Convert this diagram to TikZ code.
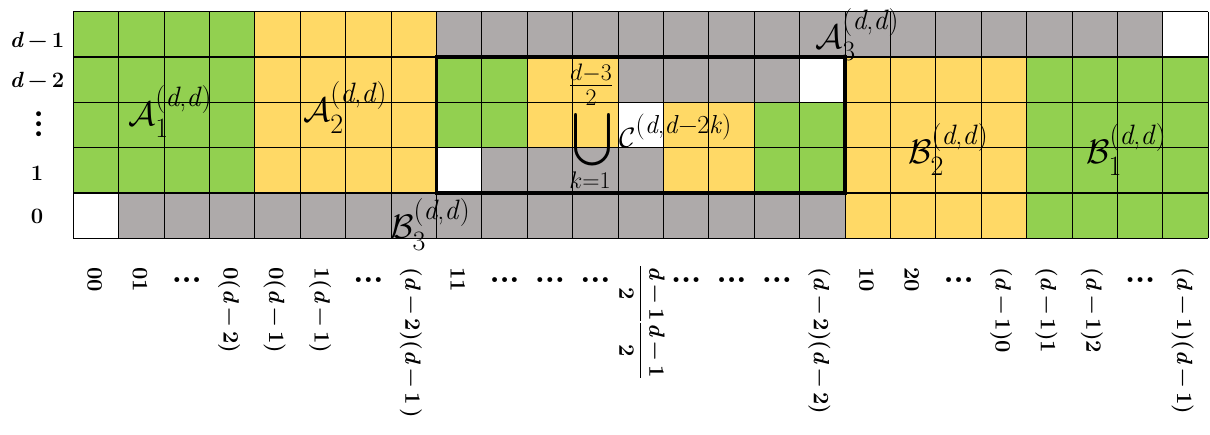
\RequirePackage{fix-cm}
\documentclass[tikz,border=0pt]{standalone}
\usepackage{amsmath}
\usepackage{graphicx}
\definecolor{cgreen}{HTML}{92D050}
\definecolor{cyellow}{HTML}{FFD966}
\definecolor{cgray}{HTML}{AEAAAA}
\newcommand{\mn}{\hspace{0.2em}−\hspace{0.2em}}
\newcommand{\vd}{\textit{d}}
\newcommand{\dts}{.\kern-0.02em.\kern-0.02em.}
\newcommand{\spx}[1]{\text{\fontsize{28}{28}\selectfont\raisebox{6pt}{#1}}}
\newcommand{\sbx}[1]{\text{\fontsize{28}{28}\selectfont\raisebox{-4pt}{#1}}}
\newcommand{\sset}[3]{$\mathcal{#1}_{\sbx{#2}}^{\spx{#3}}$}
\tikzset{
  gridline/.style={line width=1.1pt, draw=black},
  bigbox/.style={line width=3.3pt, draw=black},
  rowlab/.style={font=\fontsize{22}{22}\selectfont\bfseries, anchor=base, inner sep=0pt},
  collab/.style={font=\fontsize{22}{22}\selectfont\bfseries, rotate=-90, anchor=base west, inner sep=0pt},
  dotlab/.style={font=\fontsize{34}{34}\selectfont\bfseries, anchor=center, inner sep=0pt},
  setlab/.style={font=\fontsize{34}{34}\selectfont, anchor=base west, inner sep=0pt},
}
\begin{document}
\begin{tikzpicture}[x=1pt,y=-1pt]
\useasboundingbox (0,0) rectangle (1210,434);
\begin{scope}[shift={(73.3pt,-11.7pt)}, x=45.4pt, y=-45.32pt]
  \fill[cgreen] (0,0) rectangle (4,4);
  \fill[cgreen] (8,1) rectangle (10,3);
  \fill[cgreen] (15,2) rectangle (17,4);
  \fill[cgreen] (21,1) rectangle (25,5);
  \fill[cyellow] (4,0) rectangle (8,4);
  \fill[cyellow] (10,1) rectangle (12,3);
  \fill[cyellow] (13,2) rectangle (15,4);
  \fill[cyellow] (17,1) rectangle (21,5);
  \fill[cgray] (8,0) rectangle (24,1);
  \fill[cgray] (12,1) rectangle (16,2);
  \fill[cgray] (9,3) rectangle (13,4);
  \fill[cgray] (1,4) rectangle (17,5);
  \foreach \i in {0,...,25} \draw[gridline] (\i,0) -- (\i,5);
  \foreach \j in {0,...,5} \draw[gridline] (0,\j) -- (25,\j);
  \draw[bigbox] (8,1) rectangle (17,4);
\end{scope}
\node[rowlab] (r1) at (37,47) {\vd\mn 1};
\node[rowlab] (r2) at (37,87) {\vd\mn 2};
\node[dotlab, rotate=90] (r3) at (39,124) {\dts};
\node[rowlab] (r4) at (37,180) {1};
\node[rowlab] (r5) at (37,223) {0};
\node[collab] (col0) at (87.5,267) {00};
\node[collab] (col1) at (132.9,267) {01};
\node[collab] (col3) at (223.7,267) {0(\vd\mn 2)};
\node[collab] (col4) at (269.1,267) {0(\vd\mn 1)};
\node[collab] (col5) at (314.5,267) {1(\vd\mn 1)};
\node[collab] (col7) at (405.3,267) {(\vd\mn 2)(\vd\mn 1\,)};
\node[collab] (col8) at (450.7,267) {11};
\node[collab] (col12) at (634.5,265) {$\dfrac{\text{\bfseries\vd\mn 1}}{\text{\bfseries 2}}\dfrac{\text{\bfseries\vd\mn 1}}{\text{\bfseries 2}}$};
\node[collab] (col16) at (813.9,267) {(\vd\mn 2)(\vd\mn 2)};
\node[collab] (col17) at (859.3,267) {10};
\node[collab] (col18) at (904.7,267) {20};
\node[collab] (col20) at (995.5,267) {(\vd\mn 1)0};
\node[collab] (col21) at (1040.9,267) {(\vd\mn 1)1};
\node[collab] (col22) at (1086.3,267) {(\vd\mn 1)2};
\node[collab] (col24) at (1177.1,267) {(\vd\mn 1)(\vd\mn 1)};
\foreach \c in {2,6,9,10,11,13,14,15,19,23}
  \node[dotlab] (dots\c) at (73.3+45.4*\c+22.7, 280) {\dts};
\node[setlab] (A1) at (128,125) {\sset{A}{1}{(\vd,\vd)}};
\node[setlab] (A2) at (303,121) {\sset{A}{2}{(\vd,\vd)}};
\node[setlab] (A3) at (815,48) {\sset{A}{3}{(\vd,\vd)}};
\node[setlab] (B3) at (390,238) {\sset{B}{3}{(\vd,\vd)}};
\node[setlab] (B2) at (908,163) {\sset{B}{2}{(\vd,\vd)}};
\node[setlab] (B1) at (1086,163) {\sset{B}{1}{(\vd,\vd)}};
\node[inner sep=0pt] (U) at (592,140) {\resizebox*{40pt}{60pt}{$\displaystyle\bigcup$}};
\node[font=\fontsize{34}{34}\selectfont, inner sep=0pt] (Uup) at (591,85) {$\frac{d-3}{2}$};
\node[font=\fontsize{24}{24}\selectfont, inner sep=0pt, anchor=base] (Ulo) at (590,188) {$k{=}1$};
\node[font=\fontsize{28}{28}\selectfont, anchor=base west, inner sep=0pt] (C) at (619,147) {$\mathcal{C}^{\text{\fontsize{26}{26}\selectfont\raisebox{3pt}{(\vd,\vd−2\textit{k})}}}$};
\end{tikzpicture}
\end{document}
